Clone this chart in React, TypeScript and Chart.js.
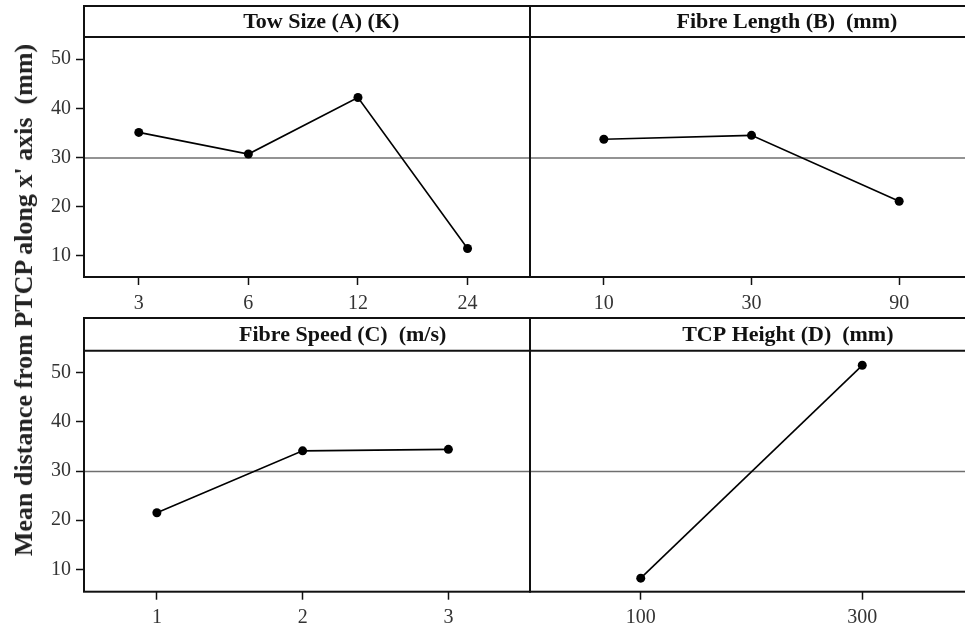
import React, { useEffect, useRef } from "react";
import { Chart, registerables } from "chart.js";

Chart.register(...registerables);

const towSizeLabels = ["3", "6", "12", "24"];
const towSizeMeans = [35.1, 30.7, 42.2, 11.5];

const fibreLengthLabels = ["10", "30", "90"];
const fibreLengthMeans = [33.7, 34.5, 21.1];

const fibreSpeedLabels = ["1", "2", "3"];
const fibreSpeedMeans = [21.5, 34.1, 34.4];

const tcpHeightLabels = ["100", "300"];
const tcpHeightMeans = [8.2, 51.5];

const yTickValues = [10, 20, 30, 40, 50];
const grandMean = 29.9;

const SERIF = "'Liberation Serif', 'Times New Roman', serif";

type PanelCfg = {
  title: string;
  labels: string[];
  values: number[];
  showY: boolean;
  left: number;
  top: number;
  width: number;
  height: number;
  padTop: number;
  padLeft: number;
  padRight: number;
  yAxisW: number;
  xAxisH: number;
  stripH: number;
  xRightOffset: number;
  titleFrac: number;
  yMin: number;
  yMax: number;
  xLabelPad: number;
};

const panelPlugin = {
  id: "panelBox",
  beforeDatasetsDraw(chart: any) {
    const { ctx, chartArea } = chart;
    const y = chart.scales.y.getPixelForValue(grandMean);
    ctx.save();
    ctx.strokeStyle = "#6f6f6f";
    ctx.lineWidth = 1.5;
    ctx.beginPath();
    ctx.moveTo(chartArea.left, y);
    ctx.lineTo(chartArea.right, y);
    ctx.stroke();
    ctx.restore();
  },
  afterDraw(chart: any) {
    const { ctx, chartArea } = chart;
    const cfg: PanelCfg = chart.options.plugins.panelBox.cfg;
    const l = chartArea.left;
    const r = chartArea.right;
    const t = chartArea.top;
    const b = chartArea.bottom;
    ctx.save();
    ctx.strokeStyle = "#111";
    ctx.lineWidth = 2;
    ctx.strokeRect(l, t - cfg.stripH, r - l, b - t + cfg.stripH);
    ctx.beginPath();
    ctx.moveTo(l, t);
    ctx.lineTo(r, t);
    ctx.stroke();
    ctx.fillStyle = "#111";
    ctx.font = `bold 22px ${SERIF}`;
    ctx.textAlign = "center";
    ctx.textBaseline = "middle";
    ctx.fillText(cfg.title, l + (r - l) * cfg.titleFrac, t - cfg.stripH / 2 + 1);
    ctx.restore();
  },
};

function Panel({ cfg }: { cfg: PanelCfg }) {
  const ref = useRef<HTMLCanvasElement>(null);
  useEffect(() => {
    const n = cfg.labels.length;
    const chart = new Chart(ref.current as HTMLCanvasElement, {
      type: "scatter",
      data: {
        datasets: [
          {
            data: cfg.values.map((v, i) => ({ x: i, y: v })),
            showLine: true,
            borderColor: "#000",
            borderWidth: 1.6,
            pointRadius: 4.5,
            pointBackgroundColor: "#000",
            pointBorderColor: "#000",
            pointBorderWidth: 0,
          },
        ],
      },
      options: {
        animation: false,
        responsive: false,
        maintainAspectRatio: false,
        layout: {
          padding: { top: cfg.padTop, left: cfg.padLeft, right: cfg.padRight, bottom: 0 },
        },
        plugins: {
          legend: { display: false },
          tooltip: { enabled: false },
          panelBox: { cfg },
        } as any,
        scales: {
          x: {
            type: "linear",
            min: -0.5,
            max: n - 1 + cfg.xRightOffset,
            afterBuildTicks: (s: any) => {
              s.ticks = cfg.labels.map((_, i) => ({ value: i }));
            },
            afterFit: (s: any) => {
              s.height = cfg.xAxisH;
            },
            ticks: {
              callback: (v: any) => cfg.labels[Math.round(Number(v))],
              font: { family: SERIF, size: 20 },
              color: "#333",
              padding: cfg.xLabelPad,
              maxRotation: 0,
              autoSkip: false,
            },
            grid: {
              display: true,
              drawOnChartArea: false,
              drawTicks: true,
              tickLength: 8,
              tickColor: "#111",
              tickWidth: 1.5,
            },
            border: { display: false },
          },
          y: {
            type: "linear",
            display: cfg.showY,
            min: cfg.yMin,
            max: cfg.yMax,
            afterBuildTicks: (s: any) => {
              s.ticks = yTickValues.map((v) => ({ value: v }));
            },
            afterFit: (s: any) => {
              s.width = cfg.yAxisW;
            },
            ticks: {
              font: { family: SERIF, size: 20 },
              color: "#333",
              padding: 5,
            },
            grid: {
              display: true,
              drawOnChartArea: false,
              drawTicks: true,
              tickLength: 8,
              tickColor: "#111",
              tickWidth: 1.5,
            },
            border: { display: false },
          },
        },
      } as any,
      plugins: [panelPlugin],
    });
    return () => chart.destroy();
  }, []);
  return (
    <canvas
      ref={ref}
      width={cfg.width}
      height={cfg.height}
      style={{
        position: "absolute",
        left: cfg.left,
        top: cfg.top,
        width: cfg.width,
        height: cfg.height,
      }}
    />
  );
}

const panels: PanelCfg[] = [
  {
    title: "Tow Size (A) (K)",
    labels: towSizeLabels,
    values: towSizeMeans,
    showY: true,
    left: 0,
    top: 0,
    width: 540,
    height: 320,
    padTop: 37,
    padLeft: 0,
    padRight: 10,
    yAxisW: 84,
    xAxisH: 43,
    stripH: 31,
    xRightOffset: 0.57,
    titleFrac: 0.532,
    yMin: 5.7,
    yMax: 54.5,
    xLabelPad: 7,
  },
  {
    title: "Fibre Length (B)  (mm)",
    labels: fibreLengthLabels,
    values: fibreLengthMeans,
    showY: false,
    left: 520,
    top: 0,
    width: 470,
    height: 320,
    padTop: 37,
    padLeft: 10,
    padRight: 17,
    yAxisW: 0,
    xAxisH: 43,
    stripH: 31,
    xRightOffset: 0.5,
    titleFrac: 0.58,
    yMin: 5.7,
    yMax: 54.5,
    xLabelPad: 7,
  },
  {
    title: "Fibre Speed (C)  (m/s)",
    labels: fibreSpeedLabels,
    values: fibreSpeedMeans,
    showY: true,
    left: 0,
    top: 310,
    width: 540,
    height: 317,
    padTop: 40.7,
    padLeft: 0,
    padRight: 10,
    yAxisW: 84,
    xAxisH: 35.3,
    stripH: 32.7,
    xRightOffset: 0.56,
    titleFrac: 0.58,
    yMin: 5.45,
    yMax: 54.47,
    xLabelPad: 6,
  },
  {
    title: "TCP Height (D)  (mm)",
    labels: tcpHeightLabels,
    values: tcpHeightMeans,
    showY: false,
    left: 520,
    top: 310,
    width: 470,
    height: 317,
    padTop: 40.7,
    padLeft: 10,
    padRight: 17,
    yAxisW: 0,
    xAxisH: 35.3,
    stripH: 32.7,
    xRightOffset: 0.5,
    titleFrac: 0.582,
    yMin: 5.45,
    yMax: 54.47,
    xLabelPad: 6,
  },
];

export default function App() {
  return (
    <div
      style={{
        position: "absolute",
        left: 0,
        top: 0,
        width: 965,
        height: 627,
        overflow: "hidden",
        background: "#fff",
      }}
    >
      {panels.map((p, i) => (
        <Panel key={i} cfg={p} />
      ))}
      <div
        style={{
          position: "absolute",
          left: 24,
          top: 300,
          transform: "translate(-50%, -50%) rotate(-90deg)",
          whiteSpace: "pre",
          fontFamily: SERIF,
          fontWeight: "bold",
          fontSize: 26,
          color: "#222",
        }}
      >
        {"Mean distance from PTCP along x' axis  (mm)"}
      </div>
    </div>
  );
}
